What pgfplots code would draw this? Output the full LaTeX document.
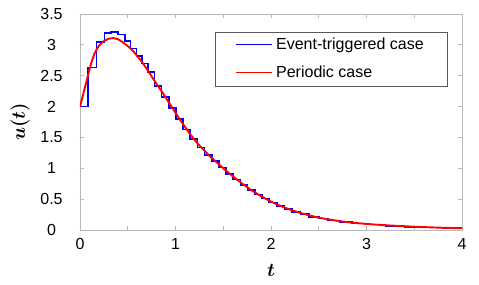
\documentclass[border=0pt]{standalone}
\usepackage{pgfplots}
\pgfplotsset{compat=1.18}
\usepackage{amsmath}
\usepackage{fontspec}
\setmainfont{Liberation Sans}
\definecolor{axgray}{RGB}{185,185,185}
\definecolor{leggray}{RGB}{90,90,90}
\begin{document}
\begin{tikzpicture}
\useasboundingbox (-50pt,-33.75pt) rectangle (249.375pt,143.75pt);
\begin{axis}[
  at={(0pt,0pt)}, anchor=south west,
  scale only axis, width=238.75pt, height=135pt,
  xmin=0, xmax=4, ymin=0, ymax=3.5,
  xtick={0,1,2,3,4}, minor xtick={0.5,1.5,2.5,3.5},
  ytick={0,0.5,...,3.5},
  tick align=inside, major tick length=2.5pt, minor tick length=2.5pt,
  axis line style={axgray, line width=0.6pt},
  tick style={axgray, line width=0.6pt},
  /pgf/number format/assume math mode=true,
  tick label style={font=\fontsize{10}{12}\selectfont, black},
  yticklabel style={anchor=center, xshift=-17.8pt},
  xticklabel style={anchor=center, yshift=-8.6pt},
  xlabel={$\boldsymbol{t}$}, ylabel={$\boldsymbol{u(t)}$},
  label style={font=\fontsize{12}{14}\selectfont},
  xlabel style={at={(axis description cs:0.5,-0.185)}, anchor=center},
  ylabel style={at={(axis description cs:-0.157,0.5)}, anchor=center},
  legend style={at={(axis cs:3.853,3.209)}, anchor=north east,
    draw=leggray, line width=0.6pt, font=\fontsize{10}{12}\selectfont,
    inner xsep=12.8pt, inner ysep=1.6pt, row sep=4.8pt,
    /tikz/every even column/.append style={column sep=3.5pt}},
  legend cell align=left,
]
\addplot[const plot, draw=blue, line width=1pt,
  legend image code/.code={\draw[draw=blue, line width=0.85pt] (0pt,0.3pt) -- (22.5pt,0.3pt);}] coordinates {
(0,2.00)(0.085,2.63)(0.172,3.05)(0.256,3.19)(0.325,3.21)(0.400,3.17)(0.470,3.06)
(0.530,2.94)(0.590,2.82)(0.650,2.70)(0.710,2.56)(0.78,2.33)(0.855,2.16)(0.93,1.98)
(1.005,1.80)(1.08,1.63)(1.155,1.475)(1.23,1.34)(1.305,1.22)(1.38,1.115)(1.455,1.01)
(1.53,0.91)(1.605,0.82)(1.68,0.73)(1.755,0.65)(1.83,0.575)(1.905,0.51)(1.98,0.445)
(2.06,0.39)(2.14,0.34)(2.22,0.295)(2.31,0.255)(2.40,0.215)(2.50,0.184)(2.60,0.157)
(2.72,0.132)(2.85,0.108)(3.0,0.087)(3.2,0.068)(3.4,0.053)(3.6,0.041)(3.8,0.032)(4.0,0.032)
};
\addlegendentry{Event-triggered case}
\addplot[draw=red, line width=1.2pt,
  legend image code/.code={\draw[draw=red, line width=0.85pt] (0pt,0.3pt) -- (22.5pt,0.3pt);}] coordinates {
(0,2.00)(0.025,2.15)(0.05,2.30)(0.075,2.45)(0.10,2.61)(0.125,2.74)(0.15,2.85)(0.175,2.93)
(0.20,2.99)(0.25,3.06)(0.30,3.10)(0.35,3.11)(0.40,3.09)(0.45,3.04)(0.50,2.98)(0.55,2.91)
(0.60,2.82)(0.65,2.72)(0.70,2.61)(0.75,2.49)(0.80,2.37)(0.85,2.26)(0.90,2.14)(0.95,2.02)
(1.00,1.90)(1.05,1.78)(1.10,1.67)(1.15,1.56)(1.20,1.46)(1.25,1.37)(1.30,1.29)(1.35,1.21)
(1.40,1.14)(1.45,1.07)(1.50,1.00)(1.60,0.87)(1.70,0.75)(1.80,0.64)(1.90,0.545)(2.00,0.46)
(2.10,0.39)(2.20,0.33)(2.30,0.28)(2.40,0.237)(2.50,0.20)(2.60,0.172)(2.70,0.148)(2.80,0.128)
(2.90,0.112)(3.00,0.098)(3.20,0.077)(3.40,0.060)(3.60,0.047)(3.80,0.036)(4.00,0.028)
};
\addlegendentry{Periodic case}
\end{axis}
\end{tikzpicture}
\end{document}
